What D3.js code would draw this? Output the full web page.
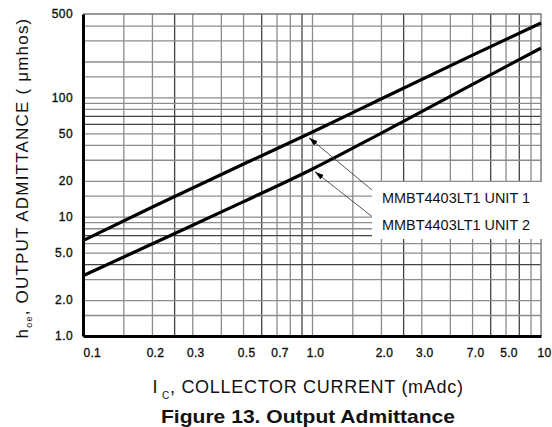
<!DOCTYPE html>
<html>
<head>
<meta charset="utf-8">
<script src="https://cdn.jsdelivr.net/npm/d3@7"></script>
<style>
  body { margin: 0; background: #fff; }
  svg { display: block; font-family: "Liberation Sans", Arial, sans-serif; }
</style>
</head>
<body>
<svg id="chart" width="552" height="427"></svg>
<script>
// ---- data ----
const icTicks = [0.1, 0.2, 0.3, 0.5, 0.7, 1, 2, 3, 5, 7, 10];
const icTickLabels = ["0.1", "0.2", "0.3", "0.5", "0.7", "1.0", "2.0", "3.0", "7.0", "5.0", "10"];
const icGrid = [0.15, 0.2, 0.25, 0.3, 0.4, 0.5, 0.6, 0.7, 0.8, 0.9, 1,
                1.5, 2, 2.5, 3, 4, 5, 6, 7, 8, 9];

const hoeTicks = [1, 2, 5, 10, 20, 50, 100, 500];
const hoeTickLabels = ["1.0", "2.0", "5.0", "10", "20", "50", "100", "500"];
const hoeGrid = [1.5, 2, 3, 4, 5, 6, 7, 8, 9, 10,
                 15, 20, 30, 40, 50, 60, 70, 80, 90, 100,
                 150, 200, 300, 400];

const unit1Ic = [0.1, 0.2, 0.5, 1, 2, 5, 10];
const unit1Hoe = [6.3, 12, 27.5, 51, 97, 225, 420];
const unit2Ic = [0.1, 0.2, 0.5, 1, 2, 5, 10];
const unit2Hoe = [3.2, 5.9, 13.3, 25, 50, 128, 259];

const seriesNames = ["MMBT4403LT1 UNIT 1", "MMBT4403LT1 UNIT 2"];
const arrowAtIc = [0.97, 1.03]; // where the leader arrows touch each curve

// ---- layout ----
const svg = d3.select("#chart");
const pL = 83, pR = 541, pT = 14, pB = 336;

const x = d3.scaleLog().domain([0.1, 10]).range([pL, pR]);
const y = d3.scaleLog().domain([1, 500]).range([pB, pT]);

// ---- grid ----
const darkX = new Set([0.25, 0.6, 0.9, 2.5, 6, 8]);
const darkY = new Set([4, 7, 60, 70]);

svg.append("g")
  .attr("transform", `translate(0,${pB})`)
  .call(d3.axisBottom(x).tickValues(icGrid).tickSize(-(pB - pT)).tickFormat(""))
  .call(g => g.select(".domain").remove())
  .call(g => g.selectAll(".tick line")
    .attr("stroke", d => darkX.has(d) ? "#444" : "#8c8c8c")
    .attr("stroke-width", 1.3));

svg.append("g")
  .attr("transform", `translate(${pL},0)`)
  .call(d3.axisLeft(y).tickValues(hoeGrid).tickSize(-(pR - pL)).tickFormat(""))
  .call(g => g.select(".domain").remove())
  .call(g => g.selectAll(".tick line")
    .attr("stroke", d => darkY.has(d) ? "#444" : "#8c8c8c")
    .attr("stroke-width", 1.3));

// thin top / right border
svg.append("path")
  .attr("d", `M${pL},${pT}H${pR}V${pB}`)
  .attr("fill", "none")
  .attr("stroke", "#777")
  .attr("stroke-width", 1.4);

// ---- axes (thick left / bottom) ----
const xAxis = svg.append("g")
  .attr("transform", `translate(0,${pB})`)
  .call(d3.axisBottom(x).tickValues(icTicks).tickSize(0).tickSizeOuter(0).tickPadding(12)
    .tickFormat((d, i) => icTickLabels[i]));
xAxis.select(".domain").attr("stroke", "#000").attr("stroke-width", 3);
xAxis.selectAll("text")
  .style("font-size", "12px")
  .style("letter-spacing", "0.3px")
  .attr("fill", "#111")
  .attr("stroke", "#111")
  .attr("stroke-width", 0.35)
  .attr("dx", 3)
  .filter(d => d === 0.1).attr("text-anchor", "start").attr("dx", 0);

const yAxis = svg.append("g")
  .attr("transform", `translate(${pL},0)`)
  .call(d3.axisLeft(y).tickValues(hoeTicks).tickSize(0).tickSizeOuter(0).tickPadding(10)
    .tickFormat((d, i) => hoeTickLabels[i]));
yAxis.select(".domain").attr("stroke", "#000").attr("stroke-width", 3);
yAxis.selectAll("text")
  .style("font-size", "12px")
  .style("letter-spacing", "0.4px")
  .attr("fill", "#111")
  .attr("stroke", "#111")
  .attr("stroke-width", 0.35);

// ---- label box (hides grid behind the legend text) ----
svg.append("rect")
  .attr("x", 372).attr("y", 182)
  .attr("width", 174).attr("height", 57)
  .attr("fill", "#fff");

// ---- curves ----
const series = [
  { name: seriesNames[0], pts: unit1Ic.map((v, i) => [v, unit1Hoe[i]]), at: arrowAtIc[0] },
  { name: seriesNames[1], pts: unit2Ic.map((v, i) => [v, unit2Hoe[i]]), at: arrowAtIc[1] }
];

const line = d3.line()
  .x(d => x(d[0]))
  .y(d => y(d[1]))
  .curve(d3.curveMonotoneX);

svg.selectAll(".curve")
  .data(series)
  .join("path")
  .attr("class", "curve")
  .attr("d", d => line(d.pts))
  .attr("fill", "none")
  .attr("stroke", "#000")
  .attr("stroke-width", 3.2);

// value of a curve at ic, interpolated in log-log space
function valueAt(pts, ic) {
  const i = Math.max(1, d3.bisector(d => d[0]).left(pts, ic));
  const [x0, y0] = pts[i - 1], [x1, y1] = pts[i];
  const t = Math.log(ic / x0) / Math.log(x1 / x0);
  return y0 * Math.pow(y1 / y0, t);
}

// ---- leader arrows + labels ----
svg.append("defs").append("marker")
  .attr("id", "arr")
  .attr("viewBox", "0 0 10 6")
  .attr("refX", 10).attr("refY", 3)
  .attr("markerWidth", 9).attr("markerHeight", 5.5)
  .attr("markerUnits", "userSpaceOnUse")
  .attr("orient", "auto")
  .append("path")
  .attr("d", "M0,0L10,3L0,6Z")
  .attr("fill", "#000");

const labelX = 382;
const labelBase = [203, 229.5];

series.forEach((s, i) => {
  const tx = x(s.at), ty = y(valueAt(s.pts, s.at)) + 4;
  svg.append("line")
    .attr("x1", labelX - 10).attr("y1", labelBase[i] - 13)
    .attr("x2", tx).attr("y2", ty)
    .attr("stroke", "#444")
    .attr("stroke-width", 0.9)
    .attr("marker-end", "url(#arr)");
  svg.append("text")
    .attr("x", labelX).attr("y", labelBase[i])
    .attr("textLength", 148)
    .attr("lengthAdjust", "spacingAndGlyphs")
    .style("font-size", "15px")
    .attr("fill", "#111")
    .text(s.name);
});

// ---- titles ----
const yt = svg.append("text")
  .attr("transform", "translate(27.5,178) rotate(-90)")
  .attr("text-anchor", "middle")
  .style("font-size", "17px")
  .style("letter-spacing", "1.2px")
  .attr("fill", "#111");
yt.append("tspan").text("h");
yt.append("tspan").attr("dy", 4).style("font-size", "9px").text("oe");
yt.append("tspan").attr("dy", -4).text(", OUTPUT ADMITTANCE ( \u03bcmhos)");

const xt = svg.append("text")
  .attr("x", 308).attr("y", 393)
  .attr("text-anchor", "middle")
  .style("font-size", "18px")
  .style("letter-spacing", "0.7px")
  .attr("fill", "#111");
xt.append("tspan").text("I");
xt.append("tspan").attr("dx", 4).attr("dy", 6).style("font-size", "10px").text("C");
xt.append("tspan").attr("dy", -6).text(", COLLECTOR CURRENT (mAdc)");

svg.append("text")
  .attr("x", 308).attr("y", 423)
  .attr("text-anchor", "middle")
  .attr("textLength", 294)
  .attr("lengthAdjust", "spacingAndGlyphs")
  .style("font-size", "19px")
  .style("font-weight", "bold")
  .attr("fill", "#111")
  .text("Figure 13. Output Admittance");
</script>
</body>
</html>
